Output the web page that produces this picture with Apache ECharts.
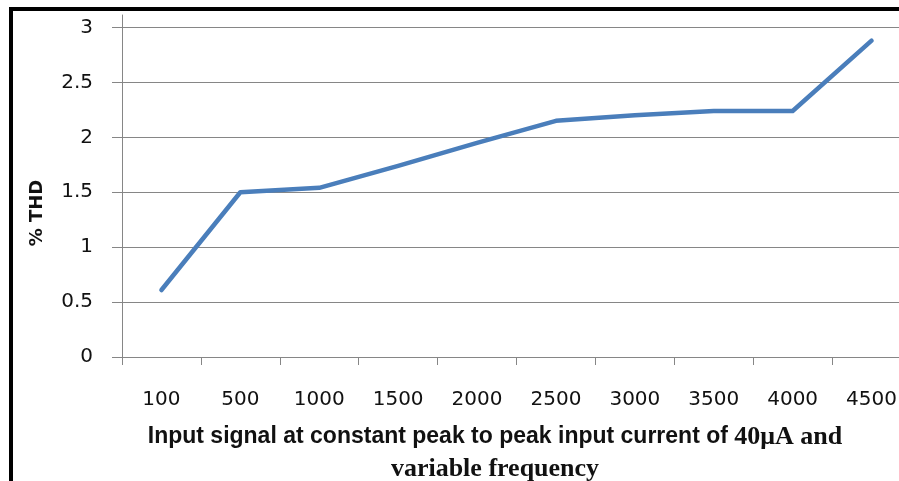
<!DOCTYPE html>
<html>
<head>
<meta charset="utf-8">
<script src="https://cdn.jsdelivr.net/npm/echarts@6/dist/echarts.min.js"></script>
<style>html,body{margin:0;padding:0;background:#fff}#c{width:899px;height:481px}</style>
</head>
<body>
<div id="c"></div>
<script>
const categories = ['100', '500', '1000', '1500', '2000', '2500', '3000', '3500', '4000', '4500'];
const thdValues = [0.61, 1.5, 1.54, 1.74, 1.95, 2.15, 2.2, 2.24, 2.24, 2.88];
const yTicks = { min: 0, max: 3, interval: 0.5 };
const yAxisTitle = '% THD';
const xTitleSans = 'Input signal at constant peak to peak input current of ';
const xTitleSerif = '40μA and';
const xTitleLine2 = 'variable frequency';

const chart = echarts.init(document.getElementById('c'), null, { renderer: 'canvas' });
const gray = '#868686';
chart.setOption({
  animation: false,
  backgroundColor: '#fff',
  grid: [
    { left: 122, top: 27.5, height: 329.5, width: 789, outerBoundsMode: 'none', containLabel: false },
    { left: 122, top: 15, height: 342, width: 789, outerBoundsMode: 'none', containLabel: false }
  ],
  xAxis: [
    {
      type: 'category',
      gridIndex: 0,
      data: categories,
      boundaryGap: true,
      axisLine: { lineStyle: { color: gray, width: 1 } },
      axisTick: { show: true, length: 8, lineStyle: { color: gray } },
      axisLabel: { margin: 33, fontFamily: 'DejaVu Sans', fontSize: 20, color: '#111', interval: 0 },
      splitLine: { show: false }
    },
    { type: 'value', gridIndex: 1, show: false }
  ],
  yAxis: [
    {
      type: 'value',
      gridIndex: 0,
      min: yTicks.min,
      max: yTicks.max,
      interval: yTicks.interval,
      axisLine: { show: true, lineStyle: { color: gray, width: 1 } },
      axisTick: { show: true, length: 10, lineStyle: { color: gray } },
      axisLabel: { margin: 29, fontFamily: 'DejaVu Sans', fontSize: 20, color: '#111' },
      splitLine: { show: true, lineStyle: { color: gray, width: 1 } }
    },
    {
      type: 'value',
      gridIndex: 1,
      min: 0,
      max: 1,
      axisLine: { show: true, lineStyle: { color: gray, width: 1 } },
      axisTick: { show: false },
      axisLabel: { show: false },
      splitLine: { show: false }
    }
  ],
  series: [
    {
      type: 'line',
      xAxisIndex: 0,
      yAxisIndex: 0,
      data: thdValues,
      showSymbol: false,
      symbol: 'none',
      lineStyle: { color: '#4A7EBB', width: 4.5, cap: 'round', join: 'round' }
    }
  ],
  graphic: [
    {
      type: 'rect',
      shape: { x: 11, y: 9, width: 1000, height: 1000 },
      style: { fill: 'none', stroke: '#000', lineWidth: 4 },
      silent: true
    },
    {
      type: 'text',
      x: 37,
      y: 213,
      rotation: Math.PI / 2,
      style: {
        text: yAxisTitle,
        font: 'bold 18px "DejaVu Sans"',
        fill: '#111',
        textAlign: 'center',
        textVerticalAlign: 'middle'
      }
    },
    {
      type: 'text',
      x: 495,
      y: 421,
      style: {
        text: '{a|' + xTitleSans + '}{b|' + xTitleSerif + '}\n{b|' + xTitleLine2 + '}',
        textAlign: 'center',
        textVerticalAlign: 'top',
        fill: '#111',
        rich: {
          a: { fontFamily: 'Liberation Sans', fontWeight: 'bold', fontSize: 23, lineHeight: 32, color: '#111' },
          b: { fontFamily: 'Liberation Serif', fontWeight: 'bold', fontSize: 26, lineHeight: 32, color: '#111' }
        }
      }
    }
  ]
});
</script>
</body>
</html>
